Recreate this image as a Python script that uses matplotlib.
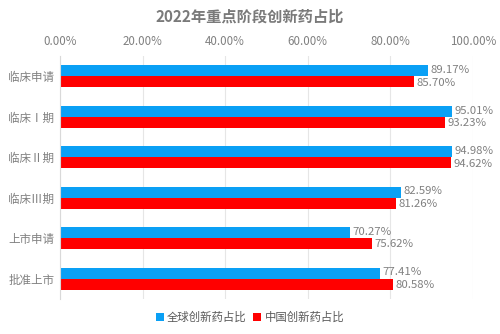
import numpy as np
import matplotlib
matplotlib.use("Agg")
import matplotlib.pyplot as plt
from matplotlib.ticker import PercentFormatter

plt.rcParams['font.family'] = ['Noto Sans CJK SC', 'DejaVu Sans']

# data
stages = ["临床申请", "临床Ⅰ期", "临床Ⅱ期", "临床Ⅲ期", "上市申请", "批准上市"]
global_share = [89.17, 95.01, 94.98, 82.59, 70.27, 77.41]
china_share = [85.70, 93.23, 94.62, 81.26, 75.62, 80.58]
series_names = ["全球创新药占比", "中国创新药占比"]

BLUE, RED, GREY = "#0aa0f5", "#ff0000", "#808080"

fig = plt.figure(figsize=(5, 3.34), dpi=100)
ax = fig.add_axes([0.12, 0.105, 0.826, 0.727])

y = np.arange(len(stages))
h = 0.27
b1 = ax.barh(y - h / 2, global_share, height=h, color=BLUE, label=series_names[0])
b2 = ax.barh(y + h / 2, china_share, height=h, color=RED, label=series_names[1])
# blue labels nudged up, red nudged down so the pairs stay readable
for bars, vals, dy in ((b1, global_share, -0.02), (b2, china_share, 0.02)):
    for r, v in zip(bars, vals):
        ax.text(v + 0.6, r.get_y() + r.get_height() / 2 + dy, f"{v:.2f}%",
                va="center", ha="left", fontsize=8.2, color=GREY)

ax.set_xlim(0, 100)
ax.set_ylim(len(stages) - 0.5, -0.5)
ax.set_yticks(y)
ax.set_yticklabels(stages, fontsize=8.3, color=GREY)
ax.set_xticks(np.arange(0, 101, 20))
ax.xaxis.set_major_formatter(PercentFormatter(decimals=2))
ax.xaxis.tick_top()
ax.tick_params(axis="x", labelsize=8.3, labelcolor=GREY, length=0, pad=6)
ax.tick_params(axis="y", length=0, pad=4)
ax.grid(axis="x", color="#e6e6e6", lw=0.8)
ax.set_axisbelow(True)
for s in ("top", "right", "bottom"):
    ax.spines[s].set_visible(False)
ax.spines["left"].set_color("#d9d9d9")

fig.suptitle("2022年重点阶段创新药占比", y=0.975, fontsize=11,
             fontweight="bold", color="#7a7a7a")
fig.legend(handles=[b1, b2], loc="center", bbox_to_anchor=(0.5, 0.05), ncol=2,
           frameon=False, fontsize=8.2, labelcolor="#595959", handlelength=0.7,
           handleheight=0.7, handletextpad=0.3, columnspacing=0.6)

fig.savefig("out.png", dpi=100)
